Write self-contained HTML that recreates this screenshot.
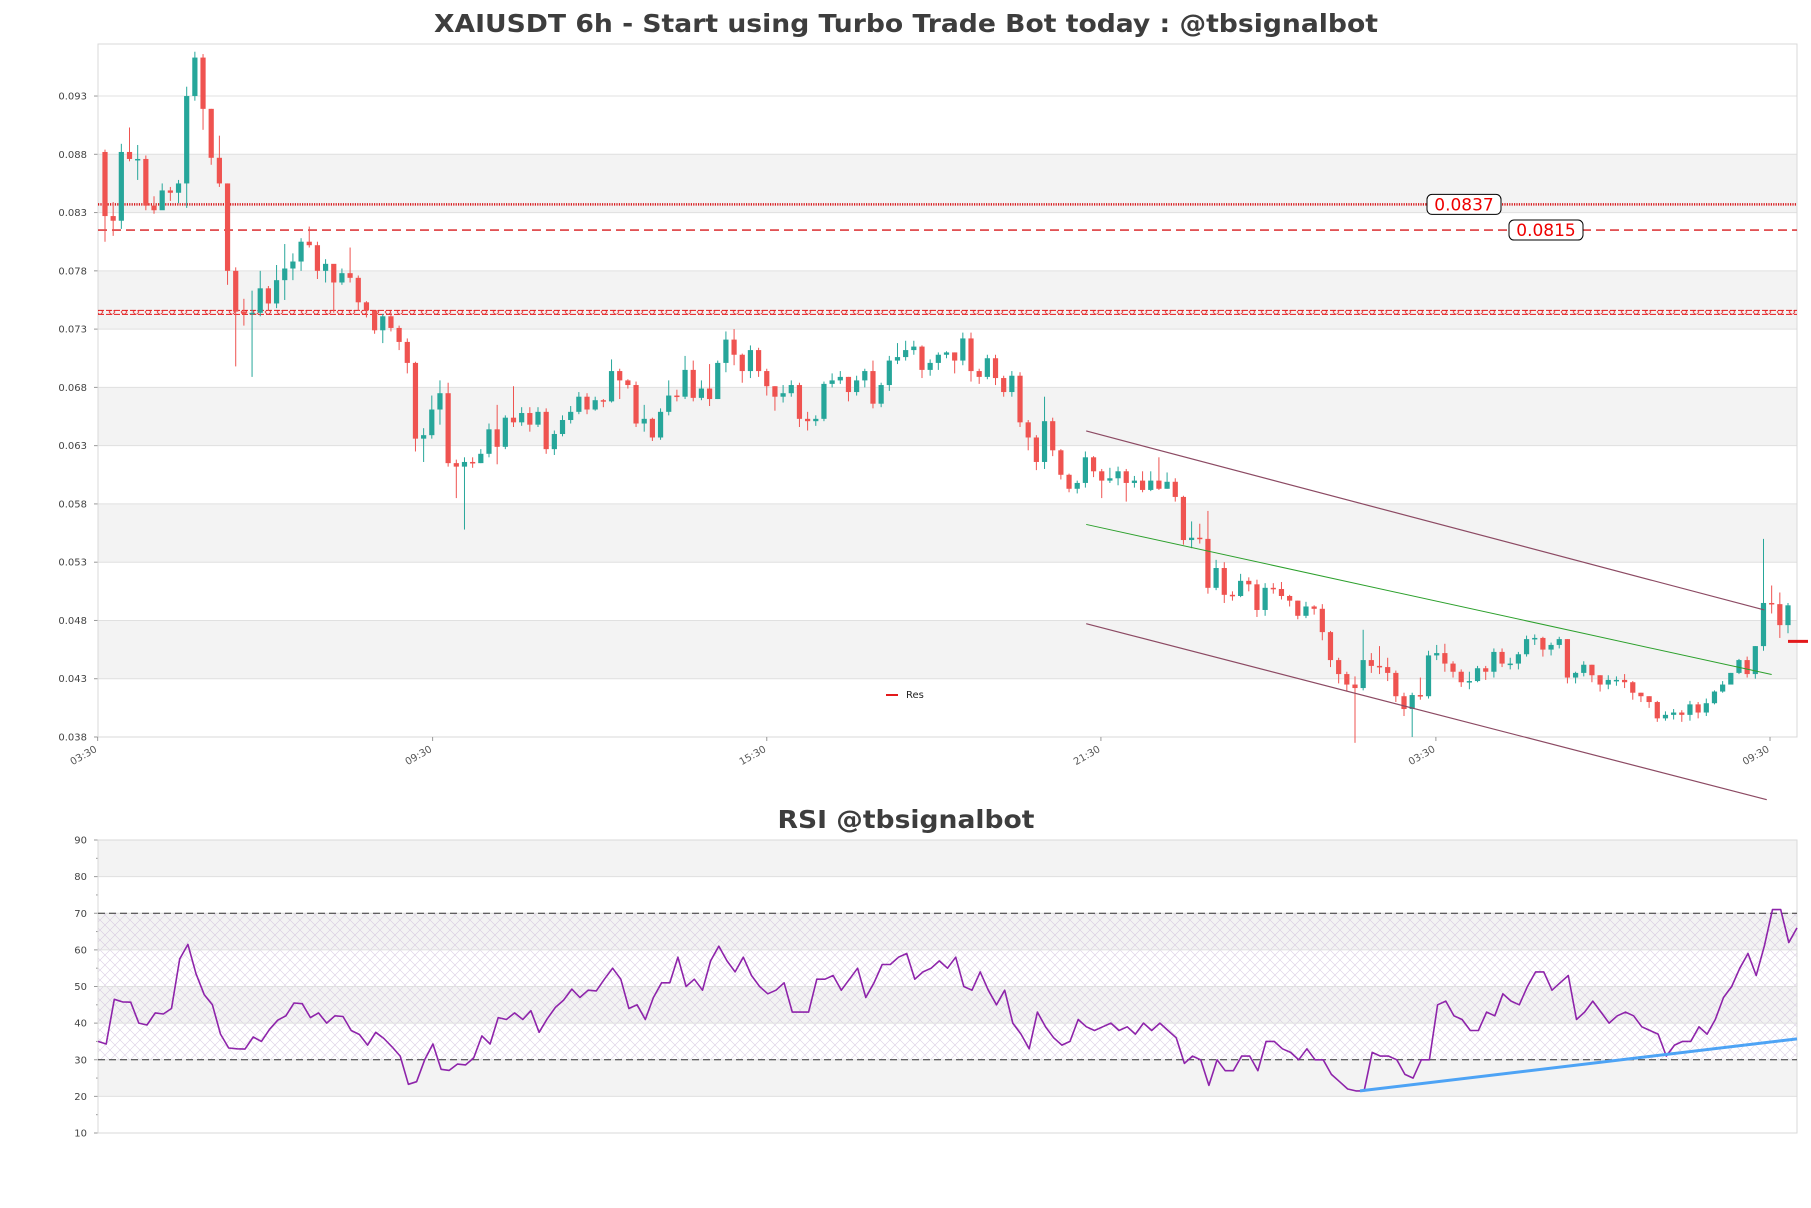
<!DOCTYPE html>
<html><head><meta charset="utf-8">
<style>
html,body{margin:0;padding:0;background:#fff;}
svg{display:block;font-family:"DejaVu Sans","Liberation Sans",sans-serif;}
</style></head>
<body>
<svg id="chart" width="1811" height="1208" viewBox="0 0 1811 1208" xmlns="http://www.w3.org/2000/svg">
<defs>
<pattern id="hatch" width="10" height="10" patternUnits="userSpaceOnUse">
<path d="M0,0 L10,10 M10,0 L0,10" stroke="#c9b6d6" stroke-width="0.6" opacity="0.7"/>
</pattern>
<pattern id="xmark" x="0" y="0" width="12" height="6" patternUnits="userSpaceOnUse">
<path d="M1,0 L7,6 M7,0 L1,6" stroke="#e31a1c" stroke-width="1"/>
</pattern>
</defs>
<g id="main"></g>
<g id="rsi"></g>
</svg>
<script>
// prices in thousandths (e.g. 82.7 => 0.0827)
const firstOpen = 88.2;
const closes = [82.7,82.3,88.2,87.6,87.6,83.6,83.2,84.9,84.7,85.5, 93.0,96.3,91.9,87.7,85.5,78.0,74.5,74.3,74.4,76.5, 75.2,77.2,78.2,78.8,80.5,80.2,78.0,78.6,77.0,77.8, 77.4,75.3,74.6,72.9,74.1,73.1,71.9,70.1,63.6,63.9, 66.1,67.5,61.5,61.2,61.6,61.5,62.3,64.4,62.9,65.4, 65.0,65.8,64.8,65.9,62.7,64.0,65.2,65.9,67.2,66.1, 66.9,66.8,69.4,68.6,68.2,64.9,65.3,63.7,65.9,67.3, 67.2,69.5,67.1,67.9,67.0,70.1,72.1,70.8,69.4,71.2, 69.4,68.1,67.2,67.5,68.2,65.3,65.1,65.3,68.3,68.6, 68.9,67.6,68.6,69.4,66.6,68.2,70.3,70.6,71.2,71.5, 69.5,70.1,70.8,71.0,70.3,72.2,69.4,68.9,70.5,68.8, 67.6,69.0,65.0,63.7,61.6,65.1,62.6,60.5,59.3,59.8, 62.0,60.8,60.0,60.2,60.8,59.8,60.0,59.2,60.0,59.3, 59.9,58.6,54.9,55.1,55.0,50.8,52.5,50.2,50.1,51.4, 51.1,48.9,50.8,50.7,50.1,49.7,48.4,49.2,49.0,47.0, 44.6,43.4,42.5,42.2,44.6,44.1,44.0,43.5,41.5,40.4, 41.6,41.5,45.0,45.2,44.3,43.6,42.7,42.8,43.9,43.6, 45.3,44.3,44.3,45.1,46.4,46.5,45.5,45.9,46.4,43.1, 43.5,44.2,43.3,42.5,42.9,42.9,42.7,41.8,41.5,41.0, 39.6,39.9,40.1,39.9,40.8,40.1,40.9,41.9,42.5,43.5, 44.6,43.4,45.8,49.5,49.4,47.6,49.3];
const highs = [88.4,83.9,88.9,90.3,88.8,87.9,84.4,85.5,85.2,85.8, 93.8,96.8,96.6,91.9,89.6,85.5,78.3,75.6,76.3,78.0, 76.7,78.5,80.3,79.5,80.8,81.8,80.5,79.0,78.5,78.2, 80.0,77.6,75.4,74.6,74.3,74.4,73.3,72.2,70.2,64.5, 67.3,68.6,68.4,61.8,62.0,62.0,62.7,64.9,66.5,65.6, 68.1,66.3,66.3,66.3,66.2,64.3,65.6,66.4,67.6,67.5, 67.2,67.0,70.4,69.6,68.7,68.5,66.5,65.4,66.2,68.6, 67.8,70.7,70.3,68.6,70.0,70.3,72.8,73.0,70.9,71.6, 71.4,69.6,68.1,68.2,68.6,68.4,65.9,65.6,68.5,69.2, 69.4,68.9,69.0,69.6,70.3,68.4,70.7,71.8,72.0,72.0, 71.6,70.4,71.0,71.1,71.0,72.7,72.7,69.6,70.8,70.8, 69.0,69.4,69.3,65.2,63.9,67.2,65.4,62.7,60.6,60.0, 62.5,62.1,61.0,61.1,61.2,61.0,60.4,60.8,60.8,62.0, 60.7,60.2,58.7,56.5,56.3,57.4,53.2,53.0,50.5,52.0, 51.7,51.5,51.2,51.2,51.3,50.2,49.7,49.6,49.3,49.4, 47.1,44.8,43.6,43.2,47.2,45.2,45.8,44.8,43.7,41.8, 41.8,43.1,45.4,45.9,46.0,44.5,43.8,43.6,44.1,44.1, 45.6,45.6,44.8,45.3,46.7,46.8,46.6,46.1,46.6,46.4, 43.6,44.5,44.2,43.3,43.3,43.2,43.4,42.8,41.8,41.5, 41.1,40.2,40.4,40.3,41.1,41.0,41.3,42.0,42.8,43.5, 44.7,44.9,45.8,55.0,51.0,50.4,49.5];
const lows = [80.5,81.0,81.6,87.4,85.8,83.2,82.9,83.6,84.0,83.8, 83.4,92.6,90.1,87.1,85.2,76.8,69.8,73.3,68.9,74.1, 74.6,74.8,75.5,77.2,78.0,80.0,77.3,77.0,74.4,76.8, 77.0,74.6,74.0,72.6,71.8,72.8,71.2,69.2,62.5,61.6, 63.6,64.8,61.2,58.5,55.8,61.1,61.5,62.0,61.4,62.7, 64.6,64.7,64.2,64.6,62.3,62.2,63.8,64.9,65.7,65.7, 66.0,66.3,66.7,67.0,67.9,64.6,64.2,63.4,63.5,65.6, 66.8,67.0,66.8,66.9,66.4,67.0,69.3,69.9,68.4,68.8, 68.9,67.3,66.0,66.7,67.2,64.6,64.3,64.7,65.1,68.0, 68.3,66.8,67.3,68.0,66.2,66.3,67.7,70.0,70.3,70.8, 68.8,69.0,69.5,70.5,69.2,69.9,68.5,68.3,68.7,68.2, 67.2,67.2,64.6,62.6,60.9,61.0,62.1,60.1,59.0,58.9, 59.4,60.3,58.5,59.8,59.6,58.2,59.4,59.0,59.1,59.2, 59.3,58.2,54.5,54.2,54.6,50.3,50.6,49.5,49.7,50.0, 50.5,48.3,48.4,50.3,49.8,49.2,48.1,48.2,48.5,46.3, 44.0,42.6,41.9,37.5,42.0,43.5,43.4,42.8,41.0,39.8, 38.0,41.2,41.3,44.6,43.6,43.1,42.3,42.1,42.7,42.9, 43.1,44.0,43.8,43.8,44.9,45.9,44.9,45.0,45.6,42.6, 42.6,43.2,42.7,41.9,42.1,42.4,42.2,41.2,41.0,40.5, 39.3,39.4,39.5,39.3,39.4,39.6,39.8,40.8,41.8,43.0, 43.4,43.1,43.0,45.4,48.6,46.5,46.9];
const priceTicks = [38,43,48,53,58,63,68,73,78,83,88,93];
const priceTickLabels = ["0.038","0.043","0.048","0.053","0.058","0.063","0.068","0.073","0.078","0.083","0.088","0.093"];
const timeTickIdx = [-0.9,40.1,81.0,121.9,162.9,203.8];
const timeTickLabels = ["03:30","09:30","15:30","21:30","03:30","09:30"];
const levelDotted = 83.7;
const levelDashed = 81.5;
const levelDouble = 74.44;
const lastPriceMark = 46.2;
// channels: [startIdx, startPrice, endIdx, endPrice]
const chanUpper = [120.1,64.26,203.1,48.90];
const chanMid = [120.1,56.24,204.0,43.36];
const chanLower = [120.1,47.72,203.4,32.62];
const rsiValues = [35,34.3,46.5,45.8,45.7,40,39.5,42.8,42.5,44, 57.5,61.5,53.5,47.8,45,37,33.2,33,32.9,36.2, 35,38.3,40.8,42,45.5,45.3,41.5,42.8,40,42, 41.8,38,36.9,34,37.5,35.8,33.5,31,23.3,24, 30,34.3,27.4,27.1,28.8,28.6,30.5,36.5,34.3,41.5, 41,42.8,41,43.4,37.5,41.2,44.3,46.3,49.3,47, 49,48.8,52, 55,52,44,45,41,47,51,51,58,50, 52,49,57,61,57,54,58,53,50,48, 49,51,43,43,43,52,52,53,49,52, 55,47,51,56,56,58,59,52,54,55, 57,55,58,50,49,54,49,45,49,40, 37,33,43,39,36,34,35,41,39,38, 39,40,38,39,37,40,38,40,38,36, 29,31,30,23,30,27,27,31,31,27, 35,35,33,32,30,33,30,30,26,24, 22,21.5,21.5,32,31,31,30,26,25,30, 30,45,46,42,41,38,38,43,42,48, 46,45,50,54,54,49,51,53,41,43, 46,43,40,42,43,42,39,38,37,31, 34,35,35,39,37,41,47,50,55,59, 53,61,71,71,62,66];
const rsiTicks = [10,20,30,40,50,60,70,80,90];
const rsiTrend = [154.5,21.5,208,35.7];

const NS = "http://www.w3.org/2000/svg";
function mk(parent, tag, attrs, text){
  const e = document.createElementNS(NS, tag);
  for (const k in attrs) e.setAttribute(k, attrs[k]);
  if (text !== undefined) e.textContent = text;
  parent.appendChild(e); return e;
}
// layout
const L = 98, R = 1797, T = 44, B = 737;
const pMin = 38, pMax = 38 + (B - T) / 11.654;
const y = p => B - (p - pMin) / (pMax - pMin) * (B - T);
const N = closes.length;
const x = i => 105 + i * (1683 / (N - 1));
const RT = 840, RB = 1133;
const ry = v => RB - (v - 10) / 80 * (RB - RT);
const rx = i => L + i * ((R - L) / (rsiValues.length - 1));

const svg = document.getElementById('chart');
const main = document.getElementById('main');
const rsi = document.getElementById('rsi');

// title
let t = mk(svg, 'text', {x: 906, y: 32, 'text-anchor': 'middle', 'font-size': 25, 'font-weight': 'bold', fill: '#3d3d3d', textLength: 944, lengthAdjust: 'spacingAndGlyphs'}, 'XAIUSDT 6h - Start using Turbo Trade Bot today : @tbsignalbot');



// bands
for (let k = 0; k < priceTicks.length - 1; k++) {
  if (k % 2 === 1) {
    const r = mk(main, 'rect', {x: L, y: y(priceTicks[k+1]), width: R - L, height: y(priceTicks[k]) - y(priceTicks[k+1]), fill: '#f3f3f3'});
    
    
  }
}
priceTicks.forEach((p, k) => {
  const g = mk(main, 'line', {x1: L, x2: R, y1: y(p), y2: y(p), stroke: '#e0e0e0', 'stroke-width': 1});
  
  
  mk(main, 'line', {x1: L - 4, x2: L, y1: y(p), y2: y(p), stroke: '#999', 'stroke-width': 1});
  const lb = mk(main, 'text', {x: L - 11, y: y(p) + 3.5, 'text-anchor': 'end', 'font-size': 10, fill: '#444'}, priceTickLabels[k]);
  
  
});
const frame = mk(main, 'rect', {x: L, y: T, width: R - L, height: B - T, fill: 'none', stroke: '#d9d9d9', 'stroke-width': 1});



// x ticks
timeTickIdx.forEach((ti, k) => {
  const tx = x(ti);
  mk(main, 'line', {x1: tx, x2: tx, y1: B, y2: B + 4, stroke: '#999'});
  const lb = mk(main, 'text', {x: tx, y: B + 14, 'text-anchor': 'end', 'font-size': 10, fill: '#555', transform: 'rotate(-30 ' + tx + ' ' + (B + 14) + ')'}, timeTickLabels[k]);
  
  
});

// levels
let ln = mk(main, 'line', {x1: L, x2: R, y1: y(levelDouble) - 2, y2: y(levelDouble) - 2, stroke: '#e31a1c', 'stroke-width': 1, 'stroke-dasharray': '6,2'});


ln = mk(main, 'line', {x1: L, x2: R, y1: y(levelDouble) + 2, y2: y(levelDouble) + 2, stroke: '#e31a1c', 'stroke-width': 1, 'stroke-dasharray': '6,2'});


ln = mk(main, 'rect', {x: L, y: y(levelDouble) - 2, width: R - L, height: 4, fill: 'url(#xmark)', opacity: 0.8});


ln = mk(main, 'line', {x1: L, x2: R, y1: y(levelDotted), y2: y(levelDotted), stroke: '#d7191c', 'stroke-width': 2.5, 'stroke-dasharray': '1.2,1.2'});


ln = mk(main, 'line', {x1: L, x2: R, y1: y(levelDashed), y2: y(levelDashed), stroke: '#d7191c', 'stroke-width': 1.3, 'stroke-dasharray': '9,5'});



function levelLabel(px, p, txt, name){
  const g = mk(main, 'g', {});
  
  
  mk(g, 'rect', {x: px, y: y(p) - 10, width: 74, height: 20, rx: 5, fill: '#fff', stroke: '#000', 'stroke-width': 1});
  mk(g, 'text', {x: px + 37, y: y(p) + 6, 'text-anchor': 'middle', 'font-size': 17, fill: '#e00'}, txt);
}
levelLabel(1427, levelDotted, '0.0837', 'label-0837');
levelLabel(1509, levelDashed, '0.0815', 'label-0815');

// candles
for (let i = 0; i < N; i++) {
  const o = i === 0 ? firstOpen : closes[i-1];
  const c = closes[i];
  const col = c >= o ? '#26a69a' : '#ef5350';
  const g = mk(main, 'g', {});
  
  
  mk(g, 'line', {x1: x(i), x2: x(i), y1: y(highs[i]), y2: y(lows[i]), stroke: col, 'stroke-width': 1});
  const top = y(Math.max(o, c)), bot = y(Math.min(o, c));
  mk(g, 'rect', {x: x(i) - 2.6, y: top, width: 5.2, height: Math.max(bot - top, 1.5), fill: col});
}
// channels
function chan(a, col, name, w){
  const l = mk(main, 'line', {x1: x(a[0]), y1: y(a[1]), x2: x(a[2]), y2: y(a[3]), stroke: col, 'stroke-width': w});
  
  
}
chan(chanUpper, '#8c4a63', 'channel-upper', 1.2);
chan(chanMid, '#2ca02c', 'channel-mid', 1);
chan(chanLower, '#8c4a63', 'channel-lower', 1.2);
// last price mark
ln = mk(main, 'line', {x1: 1788, x2: 1808, y1: y(lastPriceMark), y2: y(lastPriceMark), stroke: '#e31a1c', 'stroke-width': 3});


// legend
const lg = mk(main, 'g', {});


mk(lg, 'line', {x1: 886, x2: 898, y1: 695, y2: 695, stroke: '#e31a1c', 'stroke-width': 2});
mk(lg, 'text', {x: 906, y: 698, 'font-size': 10, fill: '#222'}, 'Res');

// RSI panel
t = mk(svg, 'text', {x: 906, y: 828, 'text-anchor': 'middle', 'font-size': 25, 'font-weight': 'bold', fill: '#3d3d3d', textLength: 257, lengthAdjust: 'spacingAndGlyphs'}, 'RSI @tbsignalbot');


[[80,90],[60,70],[40,50],[20,30]].forEach(b => {
  const r = mk(rsi, 'rect', {x: L, y: ry(b[1]), width: R - L, height: ry(b[0]) - ry(b[1]), fill: '#f3f3f3'});
  
  
});
let hz = mk(rsi, 'rect', {x: L, y: ry(70), width: R - L, height: ry(30) - ry(70), fill: 'url(#hatch)'});


rsiTicks.forEach(v => {
  mk(rsi, 'line', {x1: L, x2: R, y1: ry(v), y2: ry(v), stroke: '#e0e0e0'});
  mk(rsi, 'line', {x1: L - 4, x2: L, y1: ry(v), y2: ry(v), stroke: '#999'});
  if (v < 90) mk(rsi, 'line', {x1: L - 2, x2: L, y1: ry(v + 5), y2: ry(v + 5), stroke: '#999'});
  const lb = mk(rsi, 'text', {x: L - 11, y: ry(v) + 3.5, 'text-anchor': 'end', 'font-size': 10, fill: '#444'}, String(v));
  
  
});
const rf = mk(rsi, 'rect', {x: L, y: RT, width: R - L, height: RB - RT, fill: 'none', stroke: '#d9d9d9'});


[70, 30].forEach(v => {
  const l = mk(rsi, 'line', {x1: L, x2: R, y1: ry(v), y2: ry(v), stroke: '#333', 'stroke-width': 1, 'stroke-dasharray': '7,4'});
  
  
});
const pts = rsiValues.map((v, i) => rx(i).toFixed(1) + ',' + ry(v).toFixed(1)).join(' ');
const pl = mk(rsi, 'polyline', {points: pts, fill: 'none', stroke: '#8e24aa', 'stroke-width': 1.6, 'stroke-linejoin': 'round'});


const tl = mk(rsi, 'line', {x1: rx(rsiTrend[0]), y1: ry(rsiTrend[1]), x2: rx(rsiTrend[2]), y2: ry(rsiTrend[3]), stroke: '#4da3f5', 'stroke-width': 3});


</script>
</body></html>
